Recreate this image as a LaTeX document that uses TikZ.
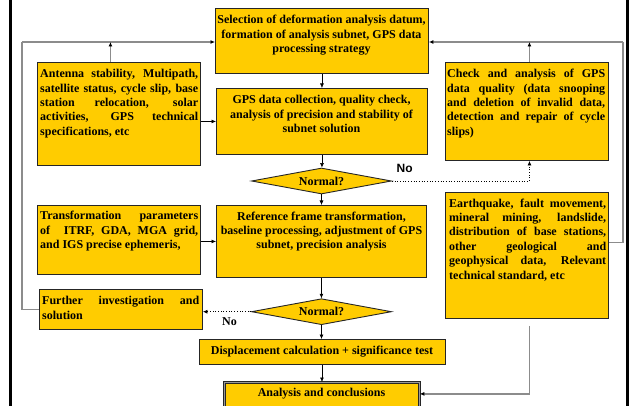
\documentclass[tikz,border=0pt]{standalone}
\usepackage{fontspec}
\setmainfont{Liberation Serif}
\newfontfamily\sansb{Liberation Sans}
\usetikzlibrary{shapes.geometric,arrows.meta}
\tolerance=10000 \hyphenpenalty=10000 \exhyphenpenalty=10000 \hbadness=10000
\definecolor{boxyellow}{HTML}{FFCC00}
\begin{document}
\begin{tikzpicture}[x=1pt,y=-1pt,
  box/.style={draw=black!85, line width=0.9pt, fill=boxyellow, inner sep=0pt, anchor=north west},
  txt/.style={inner sep=0pt, font=\fontsize{12}{14.4}\selectfont\bfseries},
  jtxt/.style={txt, text width=158pt, align=justify, anchor=north west},
  ctxt/.style={txt, align=center, anchor=north},
  dia/.style={diamond, aspect=5.4, draw=black!85, line width=0.9pt, fill=boxyellow,
    minimum width=140pt, minimum height=26pt, inner sep=0pt,
    font=\fontsize{12}{14.4}\selectfont\bfseries},
  tip/.style={-{Latex[length=4.5pt,width=4pt,color=black]}},
  arr/.style={tip, line width=0.6pt, draw=black},
  loopline/.style={line width=1.3pt, draw=black!45},
  dotline/.style={tip, dotted, line width=0.7pt, draw=black}]
\useasboundingbox (0,0) rectangle (629,406);
\clip (0,0) rectangle (629,406);
% page frame
\draw[line width=2.5pt] (10.5,0) -- (10.5,406);
\draw[line width=3pt] (627.5,0) -- (627.5,406);
% loop anchors
\coordinate (lx) at (22,42);
\coordinate (rx) at (623,42);
% boxes
\node[box, minimum width=213pt, minimum height=65pt] (top) at (215,8) {};
\node[ctxt] (topT) at (321.5,13.4) {\strut Selection of deformation analysis datum,\\formation of analysis subnet, GPS data\\processing strategy};
\node[box, minimum width=163pt, minimum height=103pt] (ant) at (37,62) {};
\node[jtxt] (antT) at (40,67.4) {\strut Antenna stability, Multipath,\linebreak satellite status, cycle slip, base\linebreak station relocation, solar\linebreak activities, GPS technical\linebreak specifications, etc};
\node[box, minimum width=211pt, minimum height=66pt] (gps) at (216,88) {};
\node[ctxt] (gpsT) at (321.5,93.4) {\strut GPS data collection, quality check,\\analysis of precision and stability of\\subnet solution};
\node[box, minimum width=163pt, minimum height=98pt] (check) at (445,62) {};
\node[jtxt] (checkT) at (447,67.4) {\strut Check and analysis of GPS\linebreak data quality (data snooping\linebreak and deletion of invalid data,\linebreak detection and repair of cycle\linebreak slips)};
\node[dia] (d1) at (321.5,181) {Normal?};
\node[box, minimum width=163pt, minimum height=69pt] (trans) at (37,205) {};
\node[jtxt] (transT) at (40,209.4) {\strut Transformation parameters\linebreak of\ \ ITRF, GDA, MGA grid,\linebreak and IGS precise ephemeris,};
\node[box, minimum width=210pt, minimum height=72pt] (ref) at (216,205) {};
\node[ctxt] (refT) at (321.5,209.9) {\strut Reference frame transformation,\\baseline processing, adjustment of GPS\\subnet, precision analysis};
\node[box, minimum width=163pt, minimum height=126pt] (eq) at (445,192) {};
\node[jtxt, text width=157pt] (eqT) at (449,196.9) {\strut Earthquake, fault movement,\linebreak mineral mining, landslide,\linebreak distribution of base stations,\linebreak other geological and\linebreak geophysical data, Relevant\linebreak technical standard, etc};
\node[box, minimum width=163pt, minimum height=40pt] (further) at (39,289) {};
\node[jtxt, text width=157pt] (furtherT) at (42,294.4) {\strut Further investigation and\linebreak solution};
\node[dia] (d2) at (321.5,311.7) {Normal?};
\node[box, minimum width=246pt, minimum height=25pt, txt] (disp) at (198.5,339) {Displacement calculation + significance test};
\node[box, minimum width=195pt, minimum height=30pt, line width=0.8pt, double=black!40, double distance=1.3pt] (ana) at (224,382) {};
\node[ctxt] (anaT) at (321.5,385.9) {\strut Analysis and conclusions};
% labels
\node[inner sep=0pt, font={\fontsize{12}{14}\selectfont\sansb\bfseries}] (no1) at (404.7,168) {No};
\node[inner sep=0pt, font={\fontsize{12}{14}\selectfont\bfseries}] (no2) at (229.5,321.5) {No};
% main chain
\draw[arr] (top.south) -- (top.south |- gps.north);
\draw[arr] (gps.south) -- (gps.south |- d1.north);
\draw[arr] (d1.south) -- (d1.south |- ref.north);
\draw[arr] (ref.south) -- (ref.south |- d2.north);
\draw[arr] (d2.south) -- (d2.south |- disp.north);
\draw[arr] (disp.south) -- (disp.south |- ana.north);
% side inputs
\draw[arr] (gps.west -| ant.east) -- (gps.west);
\draw[arr] (ref.west -| trans.east) -- (ref.west);
% No branches
\draw[dotline] (d1.east) -| ([xshift=2.5pt]check.south);
\draw[dotline] (d2.west) -- (d2.west -| further.east);
% gray loops
\draw[loopline] (further.west) -| (lx);
\draw[loopline, tip] (lx) -- (lx -| top.west);
\draw[loopline, tip] ([xshift=-8.5pt]ant.north) -- ([xshift=-8.5pt]ant.north |- lx);
\draw[loopline] ([yshift=13pt]eq.east) -| (rx);
\draw[loopline, tip] (rx) -- (rx -| top.east);
\draw[loopline, tip] ([xshift=2.5pt]check.north) -- ([xshift=2.5pt]check.north |- rx);
\draw[loopline, tip] ([xshift=2.5pt,yshift=-7pt]eq.south) |- ([yshift=3.5pt]ana.east);
\end{tikzpicture}
\end{document}
